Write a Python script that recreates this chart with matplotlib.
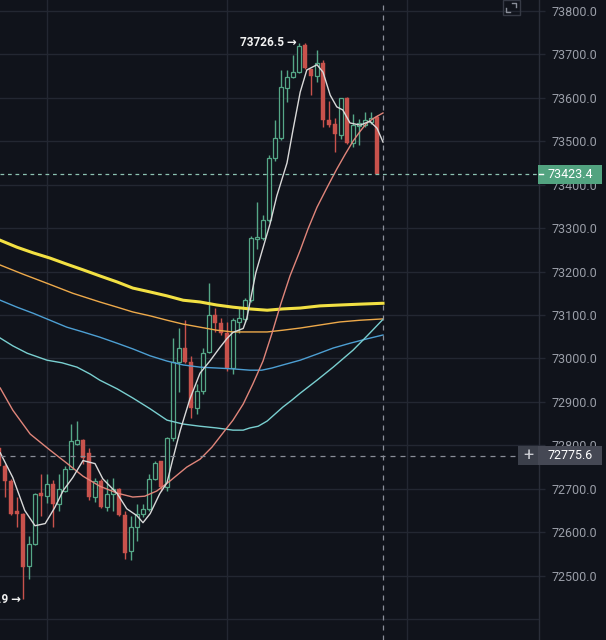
import matplotlib
matplotlib.use('Agg')
import matplotlib.pyplot as plt
import matplotlib.transforms as mtransforms
from matplotlib.patches import Rectangle
from matplotlib.lines import Line2D

plt.rcParams['font.family'] = ['Roboto', 'DejaVu Sans']

# ---------------- data ----------------
opens = [72793, 72753, 72719, 72650, 72641, 72523, 72574, 72691, 72684, 72710,
         72666, 72696, 72746, 72804, 72813, 72783, 72680, 72719, 72659, 72689,
         72700, 72640, 72557, 72611, 72643, 72654, 72723, 72763, 72703, 72818,
         72991, 73023, 72991, 72887, 72926, 73014, 73099, 73081, 73058, 72977,
         73085, 73090, 73134, 73274, 73277, 73318, 73461, 73507, 73622, 73648,
         73659, 73722, 73666, 73650, 73680, 73549, 73540, 73514, 73600, 73496,
         73535, 73537, 73544, 73556]
highs = [72800, 72757, 72722, 72680, 72645, 72592, 72690, 72735, 72735, 72721,
         72733, 72753, 72850, 72855, 72815, 72793, 72726, 72722, 72723, 72726,
         72702, 72650, 72638, 72666, 72666, 72735, 72765, 72765, 72820, 73048,
         73069, 73088, 73005, 72942, 73025, 73173, 73115, 73092, 73083, 73092,
         73115, 73138, 73281, 73360, 73330, 73468, 73549, 73664, 73664, 73699,
         73726.5, 73725, 73666, 73710, 73687, 73593, 73553, 73600, 73601, 73563,
         73551, 73567, 73567, 73560]
lows = [72745, 72680, 72640, 72611, 72446, 72493, 72570, 72638, 72668, 72611,
        72650, 72693, 72745, 72800, 72758, 72675, 72670, 72655, 72650, 72650,
        72638, 72539, 72537, 72580, 72636, 72650, 72720, 72696, 72696, 72811,
        72922, 72989, 72862, 72873, 72919, 73012, 73062, 73055, 72972, 72965,
        73058, 73085, 73129, 73251, 73272, 73314, 73455, 73503, 73590, 73646,
        73657, 73667, 73606, 73636, 73533, 73533, 73475, 73505, 73493, 73486,
        73491, 73533, 73540, 73423.4]
closes = [72753, 72719, 72643, 72641, 72521, 72574, 72687, 72684, 72710, 72666,
          72700, 72746, 72809, 72813, 72770, 72680, 72719, 72659, 72689, 72700,
          72640, 72553, 72613, 72643, 72654, 72723, 72760, 72703, 72818, 72991,
          73023, 72991, 72887, 72926, 73012, 73099, 73081, 73058, 72977, 73088,
          73092, 73134, 73277, 73279, 73318, 73461, 73507, 73625, 73648, 73659,
          73719, 73669, 73650, 73680, 73549, 73537, 73517, 73600, 73496, 73537,
          73542, 73549, 73553, 73423.4]

# moving averages (candle index, price)
ma_fast_idx = [0.2, 2.3, 4.3, 6.0, 7.7, 9.3, 10.7, 12.3, 14.0, 16.0, 17.3, 19.7, 21.3, 23.0,
               24.0, 25.2, 26.8, 28.0, 29.0, 30.2, 31.8, 33.5, 35.2, 36.8, 38.0, 39.0, 40.7,
               41.3, 42.8, 43.8, 45.2, 46.3, 48.0, 49.0, 50.2, 51.3, 53.0, 54.0, 55.2, 56.3,
               57.3, 58.5, 60.2, 61.8, 63.0, 64.0]
ma_fast = [72783, 72726, 72650, 72615, 72620, 72657, 72696, 72726, 72765, 72758, 72723,
           72689, 72654, 72638, 72622, 72643, 72689, 72714, 72770, 72834, 72906, 72966,
           72995, 73025, 73046, 73060, 73069, 73092, 73197, 73245, 73311, 73374, 73450,
           73526, 73613, 73664, 73676, 73659, 73606, 73579, 73572, 73542, 73537, 73546,
           73530, 73498]

ma_salmon_idx = [0.2, 2.3, 5.2, 8.5, 11.3, 14.0, 16.8, 19.7, 22.3, 24.3, 26.3, 28.5, 31.3,
                 33.5, 35.5, 37.3, 39.0, 40.7, 42.3, 44.0, 45.5, 47.0, 48.5, 50.2, 51.5,
                 53.0, 54.7, 56.3, 57.7, 59.0, 60.2, 61.3, 62.7, 64.0]
ma_salmon = [72932, 72881, 72826, 72789, 72759, 72729, 72706, 72690, 72681, 72683,
             72695, 72718, 72750, 72768, 72796, 72828, 72858, 72895, 72941, 72994,
             73058, 73127, 73190, 73249, 73298, 73348, 73394, 73436, 73470, 73500,
             73523, 73542, 73555, 73565]

ma_cyan_idx = [0.2, 2.3, 4.7, 8.0, 10.5, 13.0, 15.2, 16.8, 19.7, 22.3, 25.2, 28.0, 30.7,
               33.5, 36.3, 39.0, 40.7, 41.8, 43.2, 44.7, 46.0, 47.3, 48.8, 50.2, 53.0,
               55.7, 59.0, 61.5, 64.0]
ma_cyan = [73047, 73029, 73012, 72996, 72990, 72980, 72964, 72950, 72930, 72909,
           72884, 72858, 72849, 72844, 72840, 72835, 72835, 72840, 72844, 72856,
           72872, 72888, 72904, 72920, 72950, 72980, 73019, 73054, 73090]

ma_blue_idx = [0.2, 3.0, 5.7, 8.5, 11.3, 14.0, 16.8, 19.7, 22.3, 25.2, 28.0, 30.7, 33.5,
               36.3, 39.0, 41.8, 43.8, 45.5, 47.3, 50.2, 53.0, 55.7, 58.5, 61.3, 64.0]
ma_blue = [73134, 73118, 73104, 73088, 73072, 73061, 73049, 73035, 73022, 73006,
           72994, 72985, 72980, 72978, 72976, 72973, 72973, 72978, 72985, 72996,
           73010, 73024, 73035, 73045, 73054]

ma_orange_idx = [0.2, 4.0, 8.0, 12.3, 16.8, 19.7, 22.3, 25.2, 28.0, 30.7, 33.5, 36.3,
                 39.0, 41.8, 44.7, 47.3, 50.2, 53.5, 56.8, 60.2, 64.0]
ma_orange = [73215, 73194, 73173, 73150, 73130, 73118, 73107, 73098, 73088, 73079,
             73072, 73065, 73061, 73061, 73061, 73065, 73070, 73077, 73084, 73088, 73091]

ma_yellow_idx = [0.2, 3.0, 5.7, 8.5, 11.3, 14.0, 16.8, 19.7, 22.3, 25.2, 28.0, 30.7,
                 33.5, 36.3, 39.0, 41.8, 44.7, 47.3, 50.2, 53.5, 56.8, 60.2, 64.0]
ma_yellow = [73272, 73256, 73243, 73231, 73217, 73204, 73190, 73176, 73162, 73153,
             73144, 73134, 73130, 73123, 73118, 73114, 73111, 73114, 73116, 73121,
             73123, 73125, 73127]

last_price = 73423.4
cross_price = 72775.6
cross_idx = 64
high_idx, high_price = 50, 73726.5
low_idx, low_price = 4, 72446.0
label_ticks = [72500, 72600, 72700, 72800, 72900, 73000, 73100, 73200, 73300,
               73400, 73500, 73600, 73700, 73800]
grid_levels = [72400] + label_ticks
vgrid_idx = [8, 38, 68]

# ---------------- style ----------------
BG = '#10131b'
GRID = '#232732'
UP = '#55a787'
DOWN = '#c8524c'
W, H = 606, 640
PLOT_W = 539

fig = plt.figure(figsize=(W / 100, H / 100), dpi=100)
fig.patch.set_facecolor(BG)
ax = fig.add_axes([0, 0, PLOT_W / W, 1])
ax.set_facecolor(BG)
ax.set_xlim(0.167, 90.0)
ax.set_ylim(72352, 73825)

for lv in grid_levels:
    ax.axhline(lv, color=GRID, lw=1, zorder=0.5)
for vx in vgrid_idx:
    ax.axvline(vx, color=GRID, lw=1, zorder=0.5)

# candles
idx = list(range(len(opens)))
up_i = [i for i in idx if closes[i] >= opens[i]]
dn_i = [i for i in idx if closes[i] < opens[i]]
ax.vlines(up_i, [lows[i] for i in up_i], [highs[i] for i in up_i], color=UP, lw=1, zorder=2)
ax.vlines(dn_i, [lows[i] for i in dn_i], [highs[i] for i in dn_i], color=DOWN, lw=1, zorder=2)
ax.bar(up_i, [max(closes[i] - opens[i], 1) for i in up_i], bottom=[opens[i] for i in up_i],
       width=0.72, facecolor=BG, edgecolor=UP, lw=0.9, zorder=3)
ax.bar(dn_i, [opens[i] - closes[i] for i in dn_i], bottom=[closes[i] for i in dn_i],
       width=0.78, facecolor=DOWN, edgecolor=DOWN, lw=0.3, zorder=3)

# moving averages
ax.plot(ma_yellow_idx, ma_yellow, color='#f2e043', lw=2.2, zorder=4)
ax.plot(ma_orange_idx, ma_orange, color='#eda94a', lw=1.0, zorder=4)
ax.plot(ma_blue_idx, ma_blue, color='#4d9fd3', lw=1.0, zorder=4)
ax.plot(ma_cyan_idx, ma_cyan, color='#79cfd0', lw=1.0, zorder=4)
ax.plot(ma_salmon_idx, ma_salmon, color='#e0857a', lw=1.0, zorder=4)
ax.plot(ma_fast_idx, ma_fast, color='#d9d9d9', lw=1.0, zorder=4)

# price lines / crosshair
ax.axhline(last_price, color='#8cc2b2', lw=0.9, ls=(0, (3, 3)), zorder=5)
ax.axhline(cross_price, color='#8a8e99', lw=0.9, ls=(0, (4, 4)), zorder=5)
ax.axvline(cross_idx, color='#8a8e99', lw=0.9, ls=(0, (4, 4)), zorder=5)

# high / low labels
ax.text(high_idx - 0.33, high_price, '73726.5 \u2192', ha='right', va='center',
        color='#f2f2f2', fontsize=8.5, fontweight='bold', zorder=6)
ax.text(low_idx - 0.33, low_price, '72446.9 \u2192', ha='right', va='center',
        color='#f2f2f2', fontsize=8.5, fontweight='bold', zorder=6, clip_on=True)

# right price axis
ax.yaxis.tick_right()
ax.set_yticks(label_ticks)
ax.set_yticklabels(['%.1f' % v for v in label_ticks])
ax.tick_params(axis='y', colors=GRID, labelcolor='#9a9ea8', length=4, width=1,
               pad=5, labelsize=9)
ax.set_xticks([])
for s in ['left', 'top', 'bottom']:
    ax.spines[s].set_visible(False)
ax.spines['right'].set_color('#2a2e39')
ax.spines['right'].set_linewidth(1)

trans = mtransforms.blended_transform_factory(ax.transAxes, ax.transData)
upp = (73825 - 72352) / H  # price units per pixel

def ax_x(px):
    return px / PLOT_W

# last price box
ax.add_patch(Rectangle((ax_x(538), last_price - 9.5 * upp), ax_x(602) - ax_x(538), 19 * upp,
                       transform=trans, clip_on=False, facecolor='#52a380', edgecolor='none', zorder=10))
ax.add_line(Line2D([ax_x(539), ax_x(543)], [last_price, last_price], transform=trans,
                   color='white', lw=1, clip_on=False, zorder=11))
ax.text(ax_x(548), last_price, '%.1f' % last_price, transform=trans, ha='left', va='center',
        color='white', fontsize=9, clip_on=False, zorder=11)

# crosshair box
ax.add_patch(Rectangle((ax_x(518), cross_price - 9.5 * upp), ax_x(538) - ax_x(518), 19 * upp,
                       transform=trans, clip_on=False, facecolor='#3b3f4a', edgecolor='none', zorder=10))
ax.add_patch(Rectangle((ax_x(538), cross_price - 9.5 * upp), ax_x(602) - ax_x(538), 19 * upp,
                       transform=trans, clip_on=False, facecolor='#454854', edgecolor='none', zorder=10))
ax.text(ax_x(528), cross_price, '+', transform=trans, ha='center', va='center',
        color='#c9cbd1', fontsize=13, clip_on=False, zorder=11)
ax.text(ax_x(548), cross_price, '%.1f' % cross_price, transform=trans, ha='left', va='center',
        color='white', fontsize=9, clip_on=False, zorder=11)

# expand icon (top right of plot)
def fx(px):
    return px / W

def fy(py):
    return 1 - py / H

fig.add_artist(Rectangle((fx(503), fy(15)), fx(520) - fx(503), fy(0) - fy(15),
                         transform=fig.transFigure, facecolor='none', edgecolor='#363a45', lw=1))
fig.add_artist(Line2D([fx(512), fx(516), fx(516)], [fy(3), fy(3), fy(7)],
                      transform=fig.transFigure, color='#8a8e99', lw=1))
fig.add_artist(Line2D([fx(506), fx(506), fx(510)], [fy(8), fy(12), fy(12)],
                      transform=fig.transFigure, color='#8a8e99', lw=1))

fig.savefig('out.png', dpi=100, facecolor=BG)
